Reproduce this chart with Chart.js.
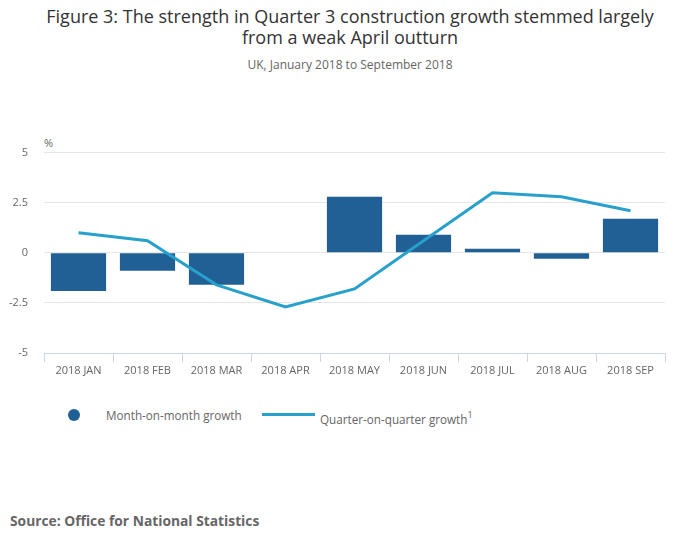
<!DOCTYPE html>
<html>
<head>
<meta charset="utf-8">
<script src="https://cdn.jsdelivr.net/npm/chart.js@4"></script>
<style>
  html, body { margin:0; padding:0; background:#fff; width:700px; height:549px; overflow:hidden; font-family:"Open Sans", sans-serif; }
  .abs { position:absolute; white-space:nowrap; }
  #title { left:0; width:700px; top:6px; text-align:center; font-size:18px; line-height:21px; color:#333; white-space:normal; }
  #subtitle { left:0; width:700px; top:56px; text-align:center; font-size:12px; color:#666; }
  #unit { left:44px; top:135px; font-size:11px; color:#666; }
  #wrap { position:absolute; left:0; top:130px; width:700px; height:260px; }
  .leg { font-size:11.7px; color:#666; }
  #source { left:10px; top:511px; font-size:13.8px; font-weight:bold; color:#666; }
</style>
</head>
<body>
<div id="title" class="abs">Figure 3: The strength in Quarter 3 construction growth stemmed largely<br>from a weak April outturn</div>
<div id="subtitle" class="abs">UK, January 2018 to September 2018</div>
<div id="unit" class="abs">%</div>
<div id="wrap"><canvas id="c"></canvas></div>
<div class="abs" style="left:68px;top:409px;width:12px;height:12px;border-radius:50%;background:#206095;"></div>
<div class="abs leg" style="left:106px;top:407px;">Month-on-month growth</div>
<div class="abs" style="left:262px;top:413px;width:53px;height:3px;background:#27a0cc;"></div>
<div class="abs leg" style="left:320px;top:411px;">Quarter-on-quarter growth<sup style="font-size:9px;vertical-align:6px;line-height:0;">1</sup></div>
<div id="source" class="abs">Source: Office for National Statistics</div>
<script>
const categories = ["2018 JAN","2018 FEB","2018 MAR","2018 APR","2018 MAY","2018 JUN","2018 JUL","2018 AUG","2018 SEP"];
const monthOnMonth = [-1.9, -0.9, -1.6, 0, 2.8, 0.9, 0.2, -0.3, 1.7];
const quarterOnQuarter = [1.0, 0.6, -1.6, -2.7, -1.8, 0.6, 3.0, 2.8, 2.1];
const yTicks = [-5, -2.5, 0, 2.5, 5];

new Chart(document.getElementById('c'), {
  data: {
    labels: categories,
    datasets: [
      { type:'line', label:'Quarter-on-quarter growth', data: quarterOnQuarter, borderColor:'#27a0cc', borderWidth:3, pointRadius:0, tension:0, order:0 },
      { type:'bar', label:'Month-on-month growth', data: monthOnMonth, backgroundColor:'#206095', barPercentage:0.8, categoryPercentage:1.0, order:1 }
    ]
  },
  options: {
    responsive:true, maintainAspectRatio:false, animation:false,
    layout:{ padding:{ top:19, right:35, left:0, bottom:0 } },
    plugins:{ legend:{display:false}, tooltip:{enabled:false} },
    scales:{
      x:{
        grid:{ drawOnChartArea:false, drawTicks:true, tickLength:9, tickColor:'#ccd6eb', offset:true },
        border:{ display:true, color:'#ccd6eb', width:1 },
        ticks:{ color:'#666', font:{ family:'Open Sans', size:11 }, padding:2, maxRotation:0, autoSkip:false },
        afterFit: s => { s.height = 37; }
      },
      y:{
        min:-5, max:5,
        afterBuildTicks: s => { s.ticks = yTicks.map(v => ({ value:v })); },
        grid:{ color:'#e6e6e6', drawTicks:false },
        border:{ display:false },
        ticks:{ color:'#666', font:{ family:'Open Sans', size:11 }, padding:16 },
        afterFit: s => { s.width = 44; }
      }
    }
  }
});
</script>
</body>
</html>
